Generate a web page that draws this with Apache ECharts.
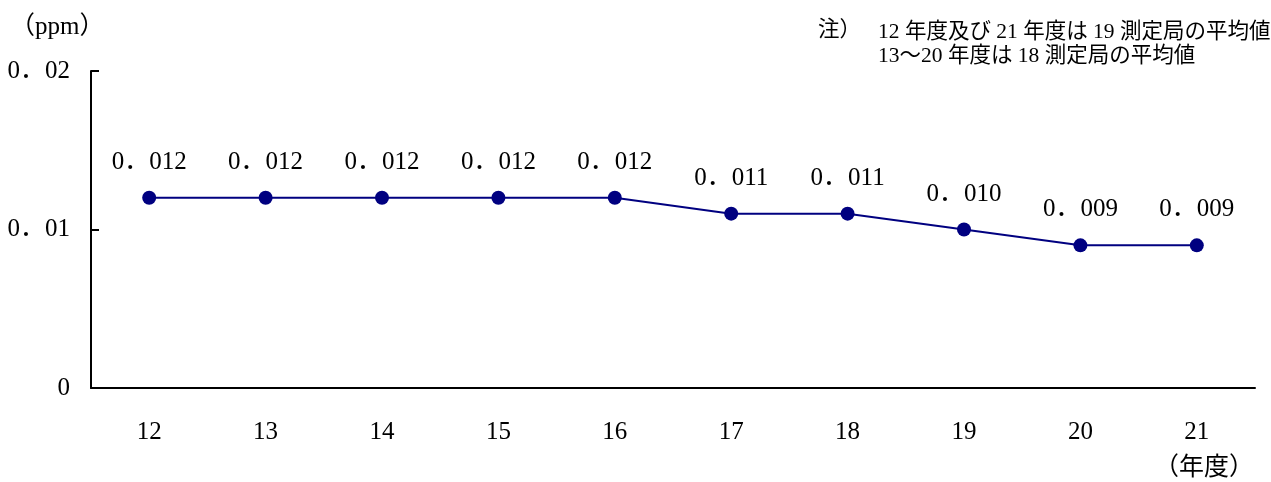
<!DOCTYPE html>
<html><head><meta charset="utf-8">
<script src="https://cdn.jsdelivr.net/npm/echarts@6/dist/echarts.min.js"></script>
<style>html,body{margin:0;padding:0;background:#fff}#c{width:1271px;height:482px}</style>
</head><body><div id="c"></div>
<script>
const years = ['12','13','14','15','16','17','18','19','20','21'];
const values = [0.012,0.012,0.012,0.012,0.012,0.011,0.011,0.010,0.009,0.009];
const yTicks = [0, 0.01, 0.02];
const FONT = '"Liberation Serif","DejaVu Serif","Noto Sans CJK JP",serif';
function fmt(v, d){ if(v===0) return '0'; return v.toFixed(d).replace('.', '．'); }
const chart = echarts.init(document.getElementById('c'));
chart.setOption({
  animation:false,
  backgroundColor:'#fff',
  grid:{left:91,right:16,top:71,bottom:94,containLabel:false},
  xAxis:{type:'category',data:years,boundaryGap:true,
    axisLine:{lineStyle:{color:'#000',width:2}},
    axisTick:{show:false},
    axisLabel:{color:'#000',fontFamily:FONT,fontSize:25,margin:32}},
  yAxis:{type:'value',min:0,max:0.02,interval:0.01,
    axisLine:{show:true,lineStyle:{color:'#000',width:2}},
    axisTick:{show:true,inside:true,length:8,lineStyle:{color:'#000',width:2}},
    splitLine:{show:false},
    axisLabel:{color:'#000',fontFamily:FONT,fontSize:25,margin:21,formatter:v=>fmt(v,2)}},
  series:[{type:'line',data:values,symbol:'circle',symbolSize:14,
    itemStyle:{color:'#000080'},lineStyle:{color:'#000080',width:2},
    label:{show:true,position:'top',distance:16,color:'#000',fontFamily:FONT,fontSize:25,
      formatter:p=>fmt(p.value,3)}}],
  graphic:[
    {type:'text',left:10,top:15,style:{text:'（ppm）',font:'25px '+FONT,fill:'#000'}},
    {type:'text',left:818,top:20,style:{text:'注）',font:'21.5px '+FONT,fill:'#000'}},
    {type:'text',left:878,top:20,style:{text:'12 年度及び 21 年度は 19 測定局の平均値\n13～20 年度は 18 測定局の平均値',font:'21.5px '+FONT,fill:'#000',lineHeight:24}},
    {type:'text',left:1154,top:456,style:{text:'（年度）',font:'25px '+FONT,fill:'#000'}}
  ]
});
</script></body></html>
